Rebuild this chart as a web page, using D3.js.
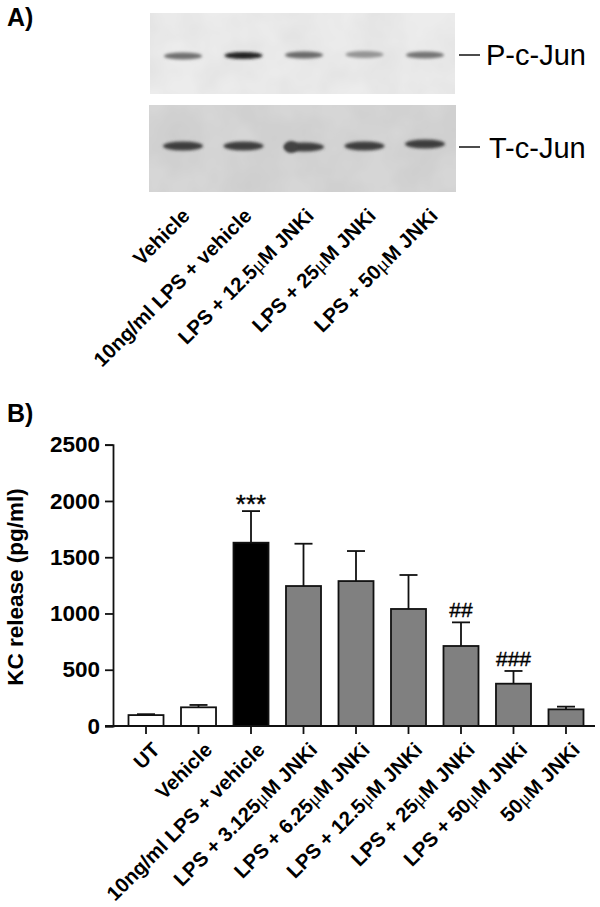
<!DOCTYPE html>
<html><head><meta charset="utf-8">
<script src="https://cdn.jsdelivr.net/npm/d3@7"></script>
<style>
html,body{margin:0;padding:0;background:#fff}
svg{display:block}
text{font-family:"Liberation Sans",Arial,sans-serif;fill:#000}
</style></head><body>
<svg id="c" width="600" height="907"></svg>
<script>
// Panel B data
const categories = ["UT","Vehicle","10ng/ml LPS + vehicle","LPS + 3.125µM JNKi","LPS + 6.25µM JNKi","LPS + 12.5µM JNKi","LPS + 25µM JNKi","LPS + 50µM JNKi","50µM JNKi"];
const means = [97,166,1629,1244,1288,1040,711,376,148];
const upperErrors = [105,187,1910,1620,1555,1342,921,489,172];
const barFills = ["#ffffff","#ffffff","#000000","#808080","#808080","#808080","#808080","#808080","#808080"];
const significance = ["","","***","","","","##","###",""];
const yTicks = [0,500,1000,1500,2000,2500];
// Panel A data
const lanes = ["Vehicle","10ng/ml LPS + vehicle","LPS + 12.5µM JNKi","LPS + 25µM JNKi","LPS + 50µM JNKi"];
const pBandDarkness = [0.56,0.86,0.58,0.42,0.54];
const tBandDarkness = [0.76,0.76,0.76,0.76,0.76];
const pBandShift = [1,0.5,0,-0.5,0];
const tBandShift = [0,0,1,0,-2];

const svg = d3.select("#c");
const defs = svg.append("defs");
defs.append("filter").attr("id","blur").attr("x","-30%").attr("y","-100%").attr("width","160%").attr("height","300%")
  .append("feGaussianBlur").attr("stdDeviation","1.8 1.6");
const grain = defs.append("filter").attr("id","grain").attr("x","0").attr("y","0").attr("width","100%").attr("height","100%");
grain.append("feTurbulence").attr("type","fractalNoise").attr("baseFrequency","0.025").attr("numOctaves",3).attr("seed",4);
grain.append("feColorMatrix").attr("type","matrix").attr("values","0 0 0 0 0  0 0 0 0 0  0 0 0 0 0  0.5 0 0 0 -0.12");
grain.append("feComposite").attr("in2","SourceGraphic").attr("operator","in");

function muText(sel){
  sel.each(function(d){
    const t = d3.select(this), parts = String(d).split("µ");
    t.text(null);
    t.append("tspan").text(parts[0]);
    if(parts.length>1){
      t.append("tspan").style("font-family","'Liberation Serif',serif").style("font-weight","400").text("\u03BC");
      t.append("tspan").text(parts[1]);
    }
  });
}

// ---------- Panel A
svg.append("text").attr("x",7).attr("y",26).attr("font-size",25).attr("font-weight",700).text("A)");
const laneX = d3.scalePoint().domain(lanes).range([183,425]);
const laneLabelX = d3.scalePoint().domain(lanes).range([191,439]);
const blots = [
  {x:150,y:13,w:305,h:81,bg:"#ececec",cy:55,dark:pBandDarkness,shift:pBandShift,rx:19,ry:3.6,label:"P-c-Jun",lx:486,ly:65,tick:[459,480,55]},
  {x:149,y:105,w:307,h:87,bg:"#d6d6d6",cy:146,dark:tBandDarkness,shift:tBandShift,rx:20,ry:4.6,label:"T-c-Jun",lx:489,ly:158,tick:[459,480,147]}
];
blots.forEach(b=>{
  const g = svg.append("g");
  g.append("rect").attr("x",b.x).attr("y",b.y).attr("width",b.w).attr("height",b.h).attr("fill",b.bg);
  g.append("rect").attr("x",b.x).attr("y",b.y).attr("width",b.w).attr("height",b.h).attr("fill","#888").attr("filter","url(#grain)").attr("opacity",0.12);
  g.selectAll("ellipse").data(lanes).join("ellipse")
    .attr("cx",d=>laneX(d))
    .attr("cy",(d,i)=>b.cy+b.shift[i])
    .attr("rx",b.rx).attr("ry",b.ry)
    .attr("fill",(d,i)=>d3.rgb(255*(1-b.dark[i]),255*(1-b.dark[i]),255*(1-b.dark[i])))
    .attr("filter","url(#blur)");
  svg.append("line").attr("x1",b.tick[0]).attr("x2",b.tick[1]).attr("y1",b.tick[2]).attr("y2",b.tick[2]).attr("stroke","#111").attr("stroke-width",1.5);
  svg.append("text").attr("x",b.lx).attr("y",b.ly).attr("font-size",29).text(b.label);
});
// the smeared left edge of the third total c-Jun band
svg.append("ellipse").attr("cx",laneX(lanes[2])-13).attr("cy",147).attr("rx",7).attr("ry",6)
  .attr("fill","#434343").attr("filter","url(#blur)");
svg.append("g").selectAll("text").data(lanes).join("text")
  .attr("transform",d=>`translate(${laneLabelX(d)},217) rotate(-45)`)
  .attr("text-anchor","end").attr("font-size",20.3).attr("font-weight",700).call(muText);

// ---------- Panel B
svg.append("text").attr("x",7).attr("y",422).attr("font-size",25).attr("font-weight",700).text("B)");
const y = d3.scaleLinear().domain([0,2500]).range([726,444.7]);
const x = d3.scaleBand().domain(categories).range([128.5,583.5]).paddingInner(0.333).paddingOuter(0);
const cx = d=>x(d)+x.bandwidth()/2;
const plot = svg.append("g");
plot.selectAll("line.err").data(categories).join("line").attr("class","err")
  .attr("x1",cx).attr("x2",cx).attr("y1",(d,i)=>y(means[i])).attr("y2",(d,i)=>y(upperErrors[i]))
  .attr("stroke","#111").attr("stroke-width",1.8);
plot.selectAll("line.cap").data(categories).join("line").attr("class","cap")
  .attr("x1",d=>cx(d)-9).attr("x2",d=>cx(d)+9).attr("y1",(d,i)=>y(upperErrors[i])).attr("y2",(d,i)=>y(upperErrors[i]))
  .attr("stroke","#111").attr("stroke-width",1.8);
plot.selectAll("rect").data(categories).join("rect")
  .attr("x",d=>x(d)).attr("width",x.bandwidth())
  .attr("y",(d,i)=>y(means[i])).attr("height",(d,i)=>y(0)-y(means[i]))
  .attr("fill",(d,i)=>barFills[i]).attr("stroke","#111").attr("stroke-width",1.8);
plot.selectAll("text.sig").data(categories).join("text").attr("class","sig")
  .attr("x",cx).attr("y",(d,i)=>y(upperErrors[i])-(significance[i][0]==="*"?-2:5))
  .attr("text-anchor","middle").attr("font-size",(d,i)=>significance[i][0]==="*"?26:21)
  .attr("stroke","#000").attr("stroke-width",0.4).text((d,i)=>significance[i]);
const yAxis = d3.axisLeft(y).tickValues(yTicks).tickSize(8).tickPadding(5).tickFormat(d3.format("d"));
const gy = svg.append("g").attr("transform","translate(113,0)").call(yAxis);
gy.selectAll("text").attr("font-size",22.5).attr("font-weight",700).attr("font-family","'Liberation Sans',Arial,sans-serif");
gy.selectAll("line,path").attr("stroke","#111").attr("stroke-width",1.8);
const xAxis = d3.axisBottom(x).tickSize(8).tickFormat("");
const gx = svg.append("g").attr("transform","translate(0,726)").call(xAxis);
gx.select("path").attr("d","M105,0H595");
gx.selectAll("line,path").attr("stroke","#111").attr("stroke-width",1.8);
svg.append("g").selectAll("text").data(categories).join("text")
  .attr("transform",d=>`translate(${cx(d)+15},751) rotate(-45)`)
  .attr("text-anchor","end").attr("font-size",20.3).attr("font-weight",700).call(muText);
svg.append("text").attr("transform","translate(23,587) rotate(-90)").attr("text-anchor","middle")
  .attr("font-size",22.5).attr("font-weight",700).text("KC release (pg/ml)");
</script>
</body></html>
